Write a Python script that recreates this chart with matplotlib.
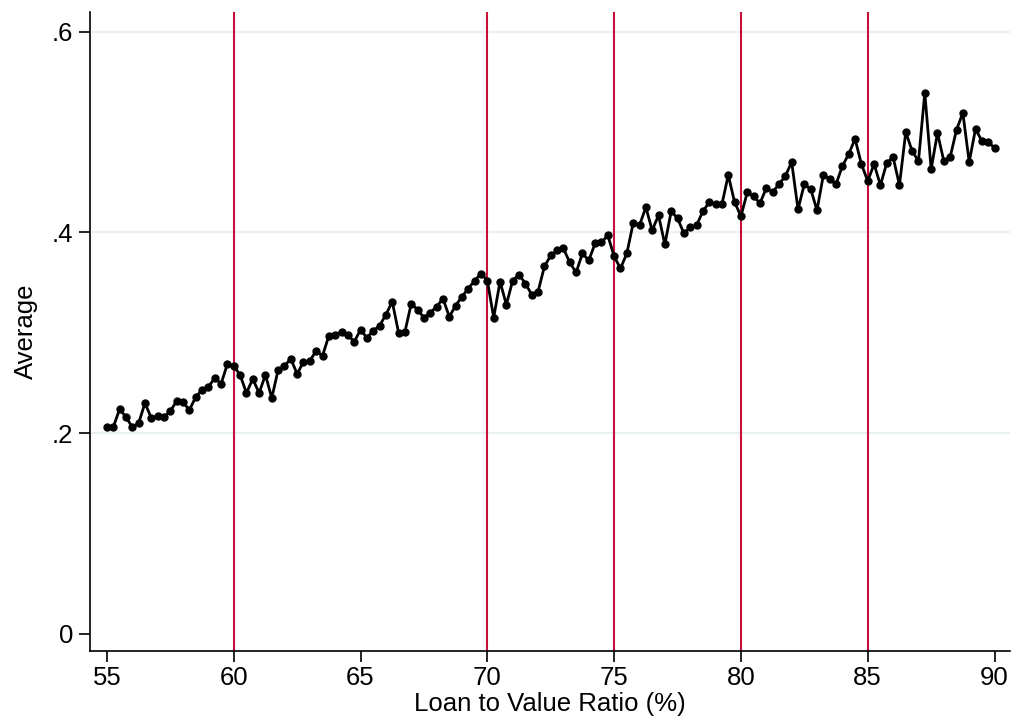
import numpy as np
import matplotlib
matplotlib.use("Agg")
import matplotlib.pyplot as plt

plt.rcParams['font.family'] = ['Liberation Sans', 'DejaVu Sans']

# loan to value ratio, step 0.25 from 55 to 90
ltv = np.arange(55, 90.01, 0.25)

average = [
    0.206, 0.206, 0.224, 0.216, 0.206, 0.210, 0.230, 0.215, 0.217, 0.216,
    0.222, 0.232, 0.231, 0.223, 0.236, 0.243, 0.246, 0.255, 0.249, 0.269,
    0.267, 0.258, 0.240, 0.254, 0.240, 0.258, 0.235, 0.263, 0.267, 0.274,
    0.259, 0.271, 0.272, 0.282, 0.277, 0.297, 0.298, 0.301, 0.298, 0.291,
    0.303, 0.295, 0.302, 0.307, 0.318, 0.331, 0.300, 0.301, 0.329, 0.323,
    0.315, 0.320, 0.326, 0.334, 0.316, 0.327, 0.336, 0.344, 0.352, 0.359,
    0.352, 0.315, 0.351, 0.328, 0.352, 0.358, 0.349, 0.338, 0.341, 0.366,
    0.377, 0.382, 0.384, 0.370, 0.360, 0.379, 0.372, 0.389, 0.390, 0.397,
    0.376, 0.364, 0.379, 0.409, 0.407, 0.425, 0.402, 0.417, 0.388, 0.421,
    0.414, 0.399, 0.405, 0.407, 0.421, 0.430, 0.428, 0.428, 0.457, 0.430,
    0.416, 0.440, 0.436, 0.429, 0.444, 0.440, 0.448, 0.456, 0.470, 0.423,
    0.448, 0.443, 0.422, 0.457, 0.453, 0.448, 0.466, 0.478, 0.493, 0.468,
    0.451, 0.468, 0.447, 0.469, 0.475, 0.447, 0.500, 0.481, 0.471, 0.539,
    0.463, 0.499, 0.471, 0.475, 0.502, 0.519, 0.470, 0.503, 0.491, 0.490,
    0.484,
]

cutoffs = [60, 70, 75, 80, 85]
x_ticks = [55, 60, 65, 70, 75, 80, 85, 90]
y_ticks = [0, 0.2, 0.4, 0.6]
y_ticklabels = ['0', '.2', '.4', '.6']

fig = plt.figure(figsize=(10.13, 7.24), dpi=100)
ax = fig.add_axes([0.0888, 0.1008, 0.908, 0.882])

# grid lines (not at zero)
for yv in y_ticks[1:]:
    ax.axhline(yv, color='#e8f0f2', linewidth=1.6, zorder=0)

for c in cutoffs:
    ax.axvline(c, color='#c8103a', linewidth=1.5, zorder=1)

ax.plot(ltv, average, color='black', linewidth=2.0, marker='o',
        markersize=5, zorder=3)

ax.set_xlim(54.33, 90.6)
ax.set_ylim(-0.017, 0.619)
ax.set_xticks(x_ticks)
ax.set_yticks(y_ticks)
ax.set_yticklabels(y_ticklabels)
ax.tick_params(axis='both', labelsize=18.5, length=8, width=1.2, direction='out')
ax.tick_params(axis='y', pad=4)
ax.tick_params(axis='x', pad=3)

for side in ['top', 'right']:
    ax.spines[side].set_visible(False)
for side in ['left', 'bottom']:
    ax.spines[side].set_linewidth(1.2)

ax.set_xlabel('Loan to Value Ratio (%)', fontsize=18.5, labelpad=1)
ax.set_ylabel('Average', fontsize=18.5, labelpad=10)

fig.savefig('out.png', dpi=100)
